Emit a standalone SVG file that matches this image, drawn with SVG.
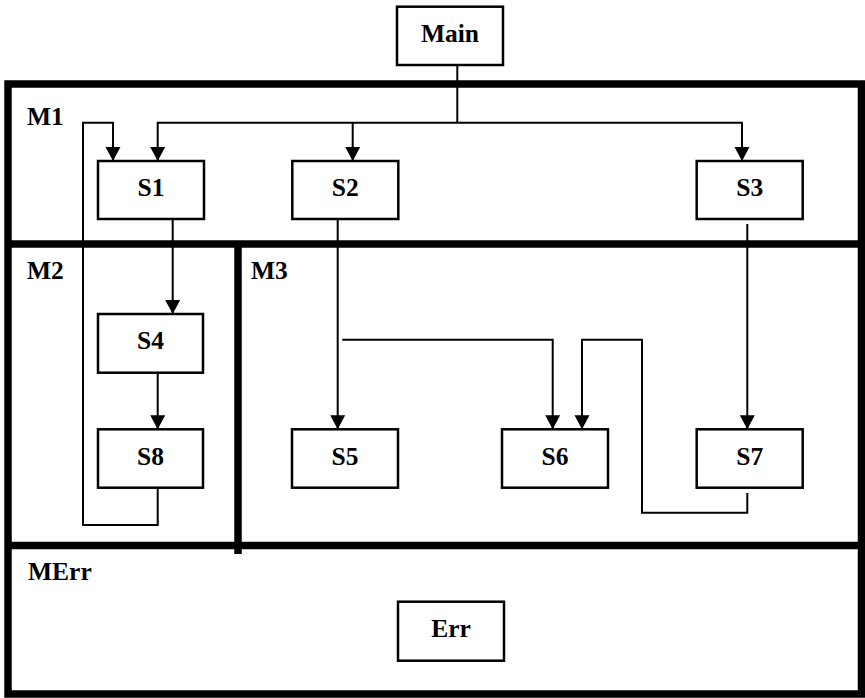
<svg xmlns="http://www.w3.org/2000/svg" width="865" height="698" viewBox="0 0 865 698">
<style>
.frame{fill:none;stroke:#000;stroke-width:7.5}
.box{fill:#fff;stroke:#000;stroke-width:2.5}
.lbl{font-family:"Liberation Serif","Times New Roman",serif;font-weight:bold;font-size:25.5px;fill:#000}
.ctr{text-anchor:middle}
.conn{fill:none;stroke:#000;stroke-width:2}
</style>
<defs>
<marker id="arr" markerUnits="userSpaceOnUse" markerWidth="15" markerHeight="16" refX="14" refY="7.5" orient="auto" viewBox="0 0 15 15">
<path d="M0,0 L14,7.5 L0,15 z" fill="#000"/>
</marker>
</defs>
<rect width="865" height="698" fill="#fff"/>
<g id="frames">
<rect class="frame" x="8" y="84" width="853.5" height="610"/>
<line class="frame" x1="8" y1="244" x2="861.5" y2="244"/>
<line class="frame" x1="8" y1="545.5" x2="861.5" y2="545.5"/>
<line class="frame" x1="238" y1="241" x2="238" y2="554"/>
<text class="lbl" x="27" y="125">M1</text>
<text class="lbl" x="27" y="279">M2</text>
<text class="lbl" x="251" y="279">M3</text>
<text class="lbl" x="28" y="580">MErr</text>
</g>
<g id="connectors">
<path class="conn" d="M457.3,65 V122.7"/>
<path class="conn" d="M457.3,122.7 H157.7 V161" marker-end="url(#arr)"/>
<path class="conn" d="M352.7,122.7 V161" marker-end="url(#arr)"/>
<path class="conn" d="M457.3,122.7 H742 V161" marker-end="url(#arr)"/>
<path class="conn" d="M157.7,488 V525 H83 V122.7 H113 V161" marker-end="url(#arr)"/>
<path class="conn" d="M172.7,219 V314" marker-end="url(#arr)"/>
<path class="conn" d="M157.7,372.7 V429.3" marker-end="url(#arr)"/>
<path class="conn" d="M337.7,219 V429.3" marker-end="url(#arr)"/>
<path class="conn" d="M342.3,339.7 H552.7 V429.3" marker-end="url(#arr)"/>
<path class="conn" d="M747.3,493 V512.7 H642 V339.7 H582 V429.3" marker-end="url(#arr)"/>
<path class="conn" d="M747.3,224 V429.3" marker-end="url(#arr)"/>
</g>
<g id="Main"><rect class="box" x="397" y="6.7" width="106" height="58.3"/><text class="lbl ctr" x="450" y="42">Main</text></g>
<g id="S1"><rect class="box" x="98" y="161" width="106" height="58"/><text class="lbl ctr" x="151" y="196">S1</text></g>
<g id="S2"><rect class="box" x="292.3" y="161" width="106" height="58"/><text class="lbl ctr" x="345.3" y="196">S2</text></g>
<g id="S3"><rect class="box" x="696.7" y="161" width="106" height="58"/><text class="lbl ctr" x="749.7" y="196">S3</text></g>
<g id="S4"><rect class="box" x="98" y="314" width="105" height="58.7"/><text class="lbl ctr" x="150.5" y="348.5">S4</text></g>
<g id="S8"><rect class="box" x="98" y="429.3" width="105" height="58.4"/><text class="lbl ctr" x="150.5" y="465">S8</text></g>
<g id="S5"><rect class="box" x="292" y="429.3" width="106" height="58.4"/><text class="lbl ctr" x="345" y="465">S5</text></g>
<g id="S6"><rect class="box" x="502" y="429.3" width="106" height="58.4"/><text class="lbl ctr" x="555" y="465">S6</text></g>
<g id="S7"><rect class="box" x="696.7" y="429.3" width="106" height="58.4"/><text class="lbl ctr" x="749.7" y="465">S7</text></g>
<g id="Err"><rect class="box" x="398" y="601.7" width="106" height="59"/><text class="lbl ctr" x="451" y="636.7">Err</text></g>
</svg>
